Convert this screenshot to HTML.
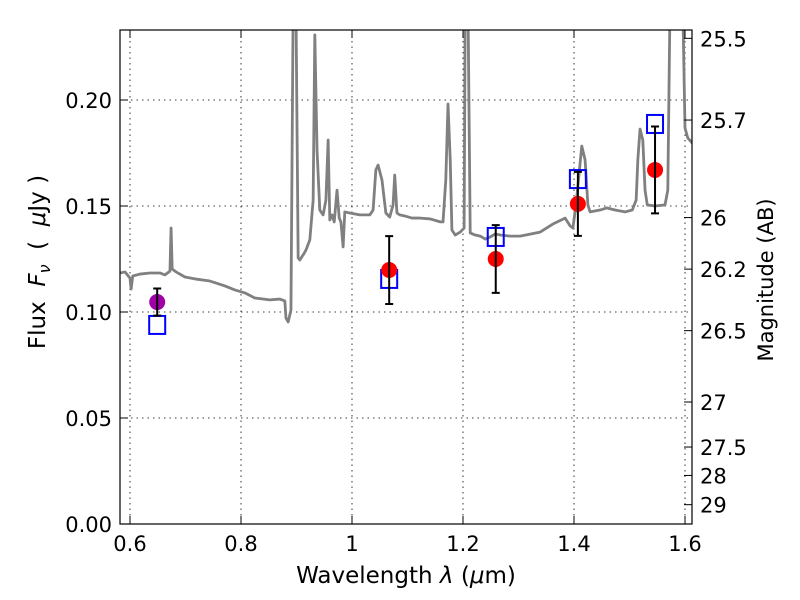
<!DOCTYPE html>
<html><head><meta charset="utf-8"><style>
body{margin:0;background:#fff}
svg{display:block;font-family:"DejaVu Sans","Liberation Sans",sans-serif}
</style></head><body>
<svg id="chart" width="800" height="600" viewBox="0 0 800 600" xmlns="http://www.w3.org/2000/svg">
<rect width="800" height="600" fill="#fff"/>
<defs><clipPath id="plotclip"><rect x="120" y="30" width="572" height="494"/></clipPath></defs>
<g id="grid"></g>
<g id="spec" clip-path="url(#plotclip)"></g>
<g id="pts"></g>
<rect x="120" y="30" width="572" height="494" fill="none" stroke="#000" stroke-width="1.2"/>
<g id="axes"></g>
<text x="406" y="583" font-size="23" text-anchor="middle">Wavelength  <tspan font-style="italic">λ</tspan> (<tspan font-style="italic">μ</tspan>m)</text>
<text transform="translate(45,262) rotate(-90)" font-size="23" text-anchor="middle" xml:space="preserve">Flux  <tspan font-style="italic">F</tspan><tspan font-style="italic" font-size="16" dy="5">ν</tspan><tspan dy="-5">  (  </tspan><tspan font-style="italic">μ</tspan>Jy )</text>
<text transform="translate(773,280) rotate(-90)" font-size="21" text-anchor="middle">Magnitude (AB)</text>
</svg>
<script>
const specLam=[0.582,0.591,0.600,0.602,0.605,0.618,0.636,0.654,0.663,0.672,0.674,0.676,0.683,0.699,0.717,0.744,0.771,0.789,0.807,0.825,0.852,0.870,0.879,0.881,0.885,0.890,0.894,0.899,0.903,0.906,0.914,0.917,0.924,0.930,0.933,0.937,0.942,0.948,0.953,0.957,0.960,0.964,0.968,0.973,0.977,0.980,0.984,0.987,0.996,1.014,1.032,1.038,1.043,1.047,1.054,1.061,1.068,1.074,1.077,1.081,1.086,1.095,1.108,1.123,1.141,1.159,1.164,1.169,1.173,1.177,1.180,1.186,1.195,1.202,1.204,1.209,1.213,1.222,1.231,1.240,1.249,1.258,1.267,1.285,1.303,1.339,1.362,1.384,1.393,1.398,1.404,1.414,1.420,1.425,1.429,1.447,1.459,1.474,1.492,1.505,1.512,1.515,1.519,1.524,1.528,1.532,1.546,1.564,1.569,1.573,1.596,1.600,1.605,1.613];
const specFlux=[0.1184,0.1189,0.1160,0.1108,0.1170,0.1179,0.1184,0.1184,0.1175,0.1193,0.1396,0.1203,0.1189,0.1165,0.1156,0.1146,0.1123,0.1104,0.1090,0.1066,0.1057,0.1061,0.1052,0.0972,0.0953,0.1009,0.245,0.245,0.1255,0.1245,0.1278,0.1292,0.1340,0.1528,0.2307,0.1764,0.1481,0.1458,0.1528,0.1811,0.1434,0.1458,0.1425,0.1575,0.1443,0.1425,0.1307,0.1472,0.1467,0.1458,0.1458,0.1481,0.1670,0.1693,0.1623,0.1467,0.1448,0.1505,0.1646,0.1467,0.1458,0.1453,0.1443,0.1443,0.1439,0.1425,0.1425,0.1623,0.1981,0.1717,0.1387,0.1363,0.1377,0.1396,0.245,0.245,0.1373,0.1363,0.1358,0.1344,0.1354,0.1368,0.1363,0.1358,0.1358,0.1377,0.1415,0.1443,0.1406,0.1396,0.1514,0.1783,0.1717,0.1505,0.1472,0.1481,0.1491,0.1481,0.1472,0.1481,0.1528,0.1717,0.1863,0.1811,0.1575,0.1505,0.1500,0.1505,0.1575,0.245,0.245,0.1868,0.1821,0.1797];
const ptLam=[0.649,1.067,1.259,1.407,1.546];
const ptFlux=[0.1047,0.1198,0.125,0.151,0.167];
const ptErr=[0.0064,0.016,0.016,0.0151,0.0205];
const ptColor=['#a000a8','#ff0000','#ff0000','#ff0000','#ff0000'];
const modelFlux=[0.0939,0.1156,0.1354,0.1627,0.1887];
const xTicks=[0.6,0.8,1.0,1.2,1.4,1.6];
const xTickLabels=['0.6','0.8','1','1.2','1.4','1.6'];
const yTicks=[0,0.05,0.10,0.15,0.20];
const yTickLabels=['0.00','0.05','0.10','0.15','0.20'];
const magTicks=[25.5,25.7,26,26.2,26.5,27,27.5,28,29];
const magTickLabels=['25.5','25.7','26','26.2','26.5','27','27.5','28','29'];

const NS='http://www.w3.org/2000/svg';
const X=l=>130+(l-0.6)*555;
const Y=f=>524-f*2120;
const magToFlux=m=>Math.pow(10,(23.9-m)/2.5);
function mk(tag,attrs,parent){const e=document.createElementNS(NS,tag);for(const k in attrs)e.setAttribute(k,attrs[k]);parent.appendChild(e);return e;}
const grid=document.getElementById('grid'),axes=document.getElementById('axes');
xTicks.forEach((t,i)=>{
  const x=X(t);
  const g=mk('line',{x1:x,x2:x,y1:30,y2:524,stroke:'#000','stroke-width':0.8,'stroke-dasharray':'1.5,4'},grid);
  
  
  mk('line',{x1:x,x2:x,y1:524,y2:516,stroke:'#000'},axes);
  mk('line',{x1:x,x2:x,y1:30,y2:38,stroke:'#000'},axes);
  const tx=mk('text',{x:x,y:551,'font-size':21,'text-anchor':'middle'},axes);
  tx.textContent=xTickLabels[i];
  
  
});
yTicks.forEach((t,i)=>{
  const y=Y(t);
  const g=mk('line',{x1:120,x2:692,y1:y,y2:y,stroke:'#000','stroke-width':0.8,'stroke-dasharray':'1.5,4'},grid);
  
  
  mk('line',{x1:120,x2:128,y1:y,y2:y,stroke:'#000'},axes);
  const tx=mk('text',{x:112,y:y+8,'font-size':21,'text-anchor':'end'},axes);
  tx.textContent=yTickLabels[i];
  
  
});
magTicks.forEach((m,i)=>{
  const y=Y(magToFlux(m));
  mk('line',{x1:684,x2:692,y1:y,y2:y,stroke:'#000'},axes);
  const tx=mk('text',{x:700,y:y+8,'font-size':21,'text-anchor':'start'},axes);
  tx.textContent=magTickLabels[i];
  
  
});
const spec=document.getElementById('spec');
const pl=mk('polyline',{points:specLam.map((l,i)=>X(l)+','+Y(specFlux[i])).join(' '),fill:'none',stroke:'#808080','stroke-width':2.8,'stroke-linejoin':'round'},spec);


const pts=document.getElementById('pts');
ptLam.forEach((l,i)=>{
  const x=X(l);
  const sq=mk('rect',{x:x-8,y:Y(modelFlux[i])-9,width:16,height:18,fill:'none',stroke:'#0000ff','stroke-width':2},pts);
  
  
  const c=mk('circle',{cx:x,cy:Y(ptFlux[i]),r:8,fill:ptColor[i]},pts);
  
  
  const y1=Y(ptFlux[i]+ptErr[i]),y2=Y(ptFlux[i]-ptErr[i]);
  const eb=mk('path',{d:`M${x},${y1}V${y2}M${x-4},${y1}H${x+4}M${x-4},${y2}H${x+4}`,stroke:'#000','stroke-width':2,fill:'none'},pts);
  
  
});
</script>
</body></html>
